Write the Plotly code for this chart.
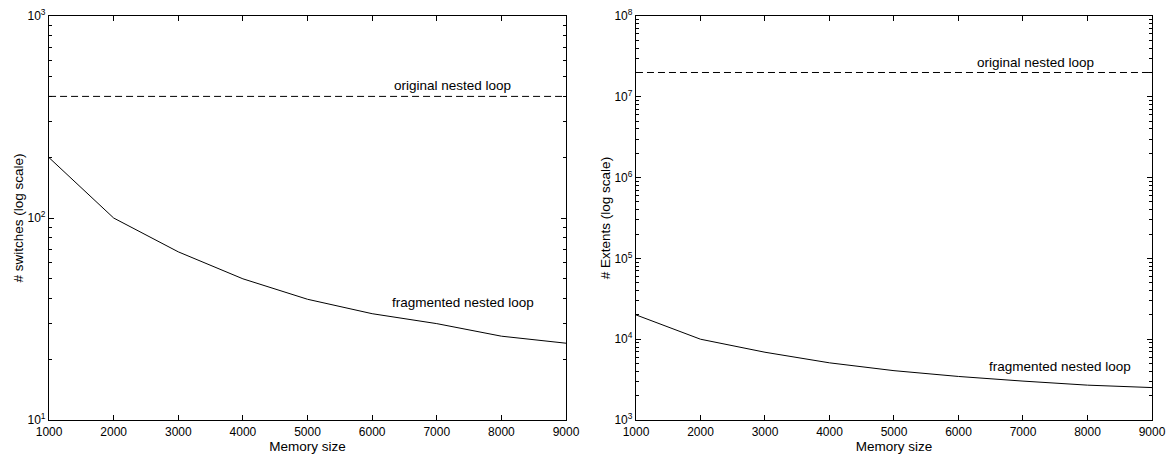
import plotly.graph_objects as go

memory = [1000, 2000, 3000, 4000, 5000, 6000, 7000, 8000, 9000]
switches_fragmented = [199, 100, 68, 50, 39.6, 33.6, 30, 26, 24]
switches_original = [400] * len(memory)
extents_fragmented = [20000, 10000, 6900, 5100, 4080, 3460, 3030, 2700, 2520]
extents_original = [2.0e7] * len(memory)

x_ticks = [1000, 2000, 3000, 4000, 5000, 6000, 7000, 8000, 9000]
left_y_ticks = [10, 100, 1000]
left_y_text = ["10<sup>1</sup>", "10<sup>2</sup>", "10<sup>3</sup>"]
right_y_ticks = [1e3, 1e4, 1e5, 1e6, 1e7, 1e8]
right_y_text = ["10<sup>3</sup>", "10<sup>4</sup>", "10<sup>5</sup>", "10<sup>6</sup>", "10<sup>7</sup>", "10<sup>8</sup>"]

def minor_vals(lo, hi):
    vals = []
    for e in range(lo, hi):
        for m in range(2, 10):
            vals.append(m * 10 ** e)
    return vals

FONT = "Liberation Sans, Arial, Helvetica, sans-serif"
fig = go.Figure()

line = dict(color="black", width=1)
dash = dict(color="black", width=1, dash="7px,4px")

fig.add_trace(go.Scatter(x=memory, y=switches_original, mode="lines", line=dash, xaxis="x", yaxis="y", showlegend=False))
fig.add_trace(go.Scatter(x=memory, y=switches_fragmented, mode="lines", line=line, xaxis="x", yaxis="y", showlegend=False))
fig.add_trace(go.Scatter(x=memory, y=extents_original, mode="lines", line=dash, xaxis="x2", yaxis="y2", showlegend=False))
fig.add_trace(go.Scatter(x=memory, y=extents_fragmented, mode="lines", line=line, xaxis="x2", yaxis="y2", showlegend=False))

common_x = dict(range=[1000, 9000], tickvals=x_ticks, ticks="inside", ticklen=5, tickcolor="black",
                showline=True, linecolor="black", linewidth=1.3, mirror="ticks", showgrid=False,
                zeroline=False, title=dict(text="Memory size", standoff=1, font=dict(size=13.5, color="black")),
                tickfont=dict(size=12, color="black"), automargin=False)
common_y = dict(type="log", ticks="inside", ticklen=5, tickcolor="black", showline=True, linecolor="black",
                linewidth=1.3, mirror="ticks", showgrid=False, zeroline=False,
                tickfont=dict(size=12, color="black"), automargin=False)

ann_font = dict(size=13.5, color="black")

fig.update_layout(
    width=1168, height=455,
    margin=dict(l=0, r=0, t=0, b=0),
    paper_bgcolor="white", plot_bgcolor="white",
    font=dict(family=FONT, size=12, color="black"),
    xaxis=dict(domain=[0.0420, 0.4846], anchor="y", **common_x),
    yaxis=dict(domain=[0.0769, 0.9648], anchor="x", range=[1, 3], tickvals=left_y_ticks, ticktext=left_y_text,
               minor=dict(tickvals=minor_vals(1, 3), ticks="inside", ticklen=3, tickcolor="black", showgrid=False),
               title=dict(text="# switches (log scale)", standoff=0, font=dict(size=13.5, color="black")), **common_y),
    xaxis2=dict(domain=[0.5445, 0.9863], anchor="y2", **common_x),
    yaxis2=dict(domain=[0.0769, 0.9648], anchor="x2", range=[3, 8], tickvals=right_y_ticks, ticktext=right_y_text,
                minor=dict(tickvals=minor_vals(3, 8), ticks="inside", ticklen=3, tickcolor="black", showgrid=False),
                title=dict(text="# Extents (log scale)", standoff=0, font=dict(size=13.5, color="black")), **common_y),
    annotations=[
        dict(text="original nested loop", x=7250, y=2.655, xref="x", yref="y", showarrow=False, font=ann_font),
        dict(text="fragmented nested loop", x=7410, y=1.58, xref="x", yref="y", showarrow=False, font=ann_font),
        dict(text="original nested loop", x=7200, y=7.42, xref="x2", yref="y2", showarrow=False, font=ann_font),
        dict(text="fragmented nested loop", x=7580, y=3.66, xref="x2", yref="y2", showarrow=False, font=ann_font),
    ],
)

fig.write_html("out.html", config={"displayModeBar": False},
               post_script="document.body.style.margin='0';document.body.style.overflow='hidden';")
